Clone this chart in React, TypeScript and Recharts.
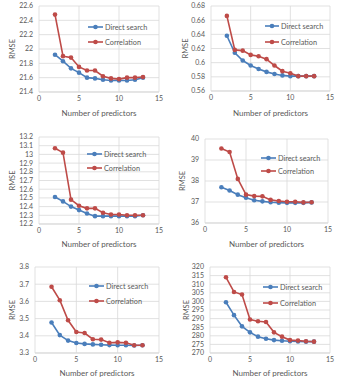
import { LineChart, Line, XAxis, YAxis, CartesianGrid, Legend } from "recharts"

const predictors = [2, 3, 4, 5, 6, 7, 8, 9, 10, 11, 12, 13]
const xTicks = [0, 5, 10, 15]

const direct1 = [21.92, 21.83, 21.73, 21.67, 21.6, 21.59, 21.57, 21.56, 21.56, 21.56, 21.57, 21.6]
const corr1 = [22.48, 21.9, 21.88, 21.75, 21.7, 21.7, 21.62, 21.59, 21.58, 21.6, 21.6, 21.61]
const yTicks1 = [21.4, 21.6, 21.8, 22, 22.2, 22.4, 22.6]

const direct2 = [0.638, 0.614, 0.603, 0.596, 0.591, 0.587, 0.584, 0.582, 0.581, 0.581, 0.581, 0.581]
const corr2 = [0.666, 0.618, 0.617, 0.611, 0.609, 0.605, 0.596, 0.588, 0.585, 0.581, 0.581, 0.581]
const yTicks2 = [0.56, 0.58, 0.6, 0.62, 0.64, 0.66, 0.68]

const direct3 = [12.51, 12.46, 12.4, 12.36, 12.32, 12.29, 12.29, 12.29, 12.29, 12.29, 12.29, 12.3]
const corr3 = [13.07, 13.02, 12.48, 12.41, 12.38, 12.38, 12.33, 12.31, 12.31, 12.3, 12.3, 12.3]
const yTicks3 = [12.2, 12.3, 12.4, 12.5, 12.6, 12.7, 12.8, 12.9, 13, 13.1, 13.2]

const direct4 = [37.7, 37.55, 37.35, 37.2, 37.08, 37.03, 36.99, 36.97, 36.96, 36.96, 36.96, 36.98]
const corr4 = [39.55, 39.38, 38.1, 37.35, 37.28, 37.27, 37.1, 37.05, 37.01, 37.01, 36.98, 36.99]
const yTicks4 = [36, 37, 38, 39, 40]

const direct5 = [3.477, 3.404, 3.372, 3.358, 3.353, 3.35, 3.348, 3.346, 3.345, 3.345, 3.344, 3.345]
const corr5 = [3.685, 3.607, 3.49, 3.422, 3.416, 3.38, 3.378, 3.36, 3.362, 3.36, 3.345, 3.345]
const yTicks5 = [3.3, 3.4, 3.5, 3.6, 3.7, 3.8]

const direct6 = [299.5, 292, 285.5, 282, 279.5, 278.3, 277.5, 277.1, 276.8, 276.7, 276.6, 276.6]
const corr6 = [314, 305.5, 304, 289.5, 288.5, 288, 282, 279.5, 277.5, 277.2, 276.8, 276.6]
const yTicks6 = [270, 275, 280, 285, 290, 295, 300, 305, 310, 315, 320]

const BLUE = "#4a7ebb"
const RED = "#be4b48"
const GREY = "#595959"
const FONT = "Lato, 'Liberation Sans', sans-serif"

type PanelProps = {
    left: number
    top: number
    direct: number[]
    corr: number[]
    yTicks: number[]
    box: { x0: number, x1: number, top: number, bot: number, titleY: number, rmseX: number }
    legend: { lx: number, tx: number, y1: number, y2: number }
}

function Panel({ left, top, direct, corr, yTicks, box, legend }: PanelProps) {
    const data = predictors.map((p, i) => ({ n: p, direct: direct[i], corr: corr[i] }))
    const W = 174
    const H = 126
    const gap = legend.y2 - legend.y1
    return (
        <div style={{ position: "absolute", left, top, width: W, height: H }}>
            <LineChart width={W} height={H} data={data}
                margin={{ left: 0, right: W - box.x1, top: box.top, bottom: 0 }}>
                <CartesianGrid stroke="#d9d9d9" strokeWidth={0.8} />
                <XAxis dataKey="n" type="number" domain={[0, 15]} ticks={xTicks} height={H - box.bot}
                    tickSize={0} tickMargin={4} stroke="#d9d9d9" interval={0}
                    tick={{ fontSize: 7, fill: GREY, fontFamily: FONT }}
                    label={() => (
                        <text x={(box.x0 + box.x1) / 2} y={box.titleY + 2.8} textAnchor="middle"
                            fontSize={8} fill={GREY} fontFamily={FONT}>Number of predictors</text>
                    )} />
                <YAxis type="number" domain={[yTicks[0], yTicks[yTicks.length - 1]]} ticks={yTicks}
                    width={box.x0} axisLine={false} tickSize={0} tickMargin={6} interval={0}
                    tick={{ fontSize: 7, fill: GREY, fontFamily: FONT }}
                    label={() => {
                        const cy = (box.top + box.bot) / 2
                        return (
                            <text x={box.rmseX} y={cy} transform={`rotate(-90, ${box.rmseX}, ${cy})`}
                                textAnchor="middle" dominantBaseline="central"
                                fontSize={7.5} fill={GREY} fontFamily={FONT}>RMSE</text>
                        )
                    }} />
                <Legend layout="vertical" align="center" verticalAlign="middle"
                    wrapperStyle={{ left: legend.lx, top: legend.y1 - 6, width: 60, height: gap + 12 }}
                    content={() => (
                        <svg width={60} height={gap + 12} style={{ display: "block" }}>
                            {[{ c: BLUE, t: "Direct search", y: 6 }, { c: RED, t: "Correlation", y: 6 + gap }].map(r => (
                                <g key={r.t}>
                                    <line x1={0} x2={legend.tx - legend.lx - 2} y1={r.y} y2={r.y} stroke={r.c} strokeWidth={1.6} />
                                    <circle cx={(legend.tx - legend.lx - 2) / 2} cy={r.y} r={2.3} fill={r.c} />
                                    <text x={legend.tx - legend.lx} y={r.y} dominantBaseline="central"
                                        fontSize={7.3} fill={GREY} fontFamily={FONT}>{r.t}</text>
                                </g>
                            ))}
                        </svg>
                    )} />
                <Line dataKey="direct" stroke={BLUE} strokeWidth={1.6} isAnimationActive={false}
                    dot={{ r: 2.3, fill: BLUE, stroke: BLUE, strokeWidth: 0 }} activeDot={false} />
                <Line dataKey="corr" stroke={RED} strokeWidth={1.6} isAnimationActive={false}
                    dot={{ r: 2.3, fill: RED, stroke: RED, strokeWidth: 0 }} activeDot={false} />
            </LineChart>
        </div>
    )
}

export default function App() {
    return (
        <div style={{ position: "absolute", left: 0, top: 0, width: 347, height: 378, background: "#fff" }}>
            <Panel left={0} top={0} direct={direct1} corr={corr1} yTicks={yTicks1}
                box={{ x0: 39, x1: 159, top: 6, bot: 92, titleY: 113, rmseX: 12 }}
                legend={{ lx: 88, tx: 105, y1: 27, y2: 42 }} />
            <Panel left={173} top={0} direct={direct2} corr={corr2} yTicks={yTicks2}
                box={{ x0: 38, x1: 157, top: 6, bot: 91, titleY: 113, rmseX: 12 }}
                legend={{ lx: 92, tx: 108, y1: 26, y2: 42 }} />
            <Panel left={0} top={126} direct={direct3} corr={corr3} yTicks={yTicks3}
                box={{ x0: 39, x1: 159, top: 11, bot: 98, titleY: 118, rmseX: 12 }}
                legend={{ lx: 87, tx: 104, y1: 28, y2: 42 }} />
            <Panel left={173} top={126} direct={direct4} corr={corr4} yTicks={yTicks4}
                box={{ x0: 32, x1: 155, top: 13, bot: 97, titleY: 118, rmseX: 9 }}
                legend={{ lx: 88, tx: 105, y1: 32, y2: 45 }} />
            <Panel left={0} top={252} direct={direct5} corr={corr5} yTicks={yTicks5}
                box={{ x0: 35, x1: 159, top: 15, bot: 101, titleY: 121, rmseX: 12 }}
                legend={{ lx: 89, tx: 106, y1: 34, y2: 49 }} />
            <Panel left={173} top={252} direct={direct6} corr={corr6} yTicks={yTicks6}
                box={{ x0: 37, x1: 157, top: 15, bot: 101, titleY: 121, rmseX: 13 }}
                legend={{ lx: 90, tx: 107, y1: 35, y2: 51 }} />
        </div>
    )
}
